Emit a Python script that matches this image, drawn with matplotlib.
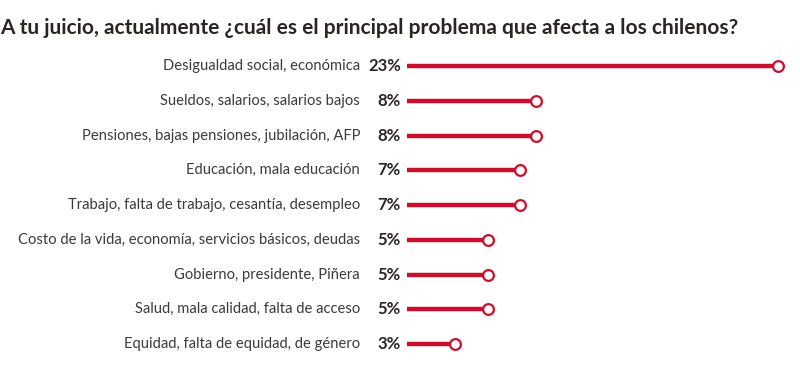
import matplotlib
matplotlib.use("Agg")
import matplotlib.pyplot as plt
from matplotlib.transforms import blended_transform_factory

categories = [
    "Desigualdad social, económica",
    "Sueldos, salarios, salarios bajos",
    "Pensiones, bajas pensiones, jubilación, AFP",
    "Educación, mala educación",
    "Trabajo, falta de trabajo, cesantía, desempleo",
    "Costo de la vida, economía, servicios básicos, deudas",
    "Gobierno, presidente, Piñera",
    "Salud, mala calidad, falta de acceso",
    "Equidad, falta de equidad, de género",
]
values = [23, 8, 8, 7, 7, 5, 5, 5, 3]
title = "A tu juicio, actualmente ¿cuál es el principal problema que afecta a los chilenos?"

W, H = 800, 369
fig = plt.figure(figsize=(W / 100, H / 100), dpi=100)
fig.patch.set_facecolor("white")

x0_px = 407
px_per_unit = 16.13
row0_px = 66
row_step = 34.75
ax = fig.add_axes([x0_px / W, 0, 1 - x0_px / W, 1])
ax.set_xlim(0, (W - x0_px) / px_per_unit)
ax.set_ylim((H - row0_px) / row_step, -row0_px / row_step)
ax.axis("off")

red = "#c8102e"
dark = "#2b2522"
ys = list(range(len(categories)))
ax.hlines(ys, 0, values, color=red, linewidth=3.2, capstyle="butt", zorder=2)
ax.scatter(values, ys, s=60, facecolor="white", edgecolor=red, linewidth=1.6, zorder=3)

tr = blended_transform_factory(fig.transFigure, ax.transData)
for y, c, v in zip(ys, categories, values):
    fig.text(360 / W, y, c, transform=tr, ha="right", va="center",
             fontsize=10.6, color="#3a3a3a", family="Lato")
    fig.text(401 / W, y, f"{v}%", transform=tr, ha="right", va="center",
             fontsize=12, fontweight="bold", color=dark, family="Lato")

fig.text(0, 1 - 28 / H, title, ha="left", va="center", fontsize=15.0,
         fontweight="bold", color=dark, family="Lato")

fig.savefig("out.png", dpi=100, facecolor="white")
